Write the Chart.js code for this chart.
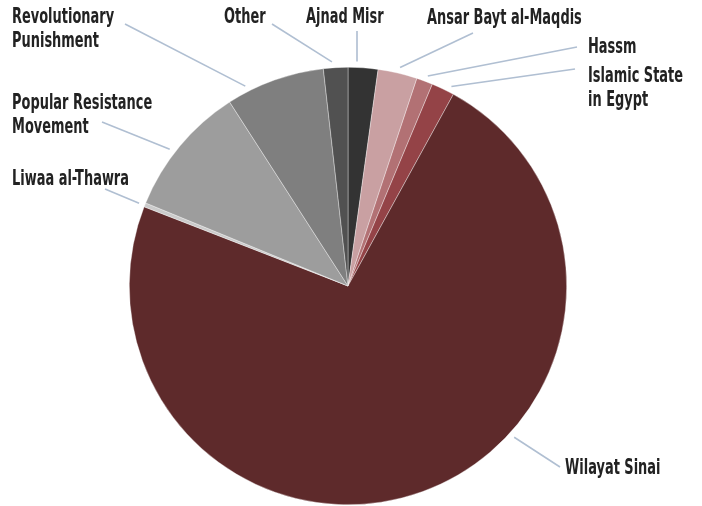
<!DOCTYPE html>
<html><head><meta charset="utf-8">
<script src="https://cdn.jsdelivr.net/npm/chart.js@4.4.1/dist/chart.umd.min.js"></script>
<style>html,body{margin:0;padding:0;background:#fff}#wrap{width:702px;height:506px}</style>
</head><body><div id="wrap"><canvas id="c" width="702" height="506"></canvas></div>
<script>
const categories = ["Ajnad Misr","Ansar Bayt al-Maqdis","Hassm","Islamic State in Egypt","Wilayat Sinai","Liwaa al-Thawra","Popular Resistance Movement","Revolutionary Punishment","Other"];
const shares = [2.2, 2.9, 1.2, 1.7, 72.9, 0.3, 9.7, 7.3, 1.8];
const colors = ["#333333","#c9a0a2","#b27174","#944347","#5e2a2b","#cbcbcb","#9d9d9d","#7f7f7f","#515151"];
const labelLines = [["Ajnad Misr"],["Ansar Bayt al-Maqdis"],["Hassm"],["Islamic State","in Egypt"],["Wilayat Sinai"],["Liwaa al-Thawra"],["Popular Resistance","Movement"],["Revolutionary","Punishment"],["Other"]];
// label layout: text left x, first line center y, connector start (near text), anchor angle on rim (deg clockwise from top)
const labelLayout = [
  {tx:306, ty:18, sx:357, sy:31, ang:2.3},
  {tx:427, ty:19, sx:473, sy:33, ang:13.4},
  {tx:588, ty:48, sx:577, sy:47, ang:20.8},
  {tx:588, ty:77, sx:575, sy:69, ang:27.4},
  {tx:565, ty:469, sx:560, sy:467, ang:132.3},
  {tx:12, ty:180, sx:105, sy:189, ang:-68.4},
  {tx:12, ty:104, sx:102, sy:122, ang:-52.5},
  {tx:12, ty:18, sx:125, sy:24, ang:-27.2},
  {tx:224, ty:18, sx:272, sy:24, ang:-4.1}
];
const FONT = "bold 18px 'DejaVu Sans Condensed', 'DejaVu Sans', sans-serif";

const labelPlugin = {
  id:'pieLabels',
  afterDraw(chart){
    const ctx = chart.ctx;
    const arc = chart.getDatasetMeta(0).data[0];
    const cx = arc.x, cy = arc.y, R = arc.outerRadius;
    ctx.save();
    labelLayout.forEach((L,i)=>{
      const a = L.ang*Math.PI/180;
      const ex = cx + (R+6)*Math.sin(a), ey = cy - (R+6)*Math.cos(a);
      ctx.strokeStyle = '#b0bfd2';
      ctx.lineWidth = 1.6;
      ctx.beginPath(); ctx.moveTo(L.sx, L.sy); ctx.lineTo(ex, ey); ctx.stroke();
      ctx.fillStyle = '#222222';
      ctx.font = FONT;
      ctx.textBaseline = 'middle';
      ctx.textAlign = 'left';
      labelLines[i].forEach((t,k)=>{
        ctx.save();
        ctx.translate(L.tx, L.ty + k*23.5);
        ctx.scale(0.8, 1.14);
        ctx.fillText(t, 0, 0);
        ctx.restore();
      });
    });
    ctx.restore();
  }
};

new Chart(document.getElementById('c'), {
  type:'pie',
  data:{labels:categories, datasets:[{data:shares, backgroundColor:colors, borderColor:'rgba(255,255,255,0.6)', borderWidth:0.6}]},
  options:{
    responsive:false, animation:false,
    layout:{padding:{top:67,bottom:1,left:129,right:135}},
    plugins:{legend:{display:false}, tooltip:{enabled:false}}
  },
  plugins:[labelPlugin]
});
</script>
</body></html>
